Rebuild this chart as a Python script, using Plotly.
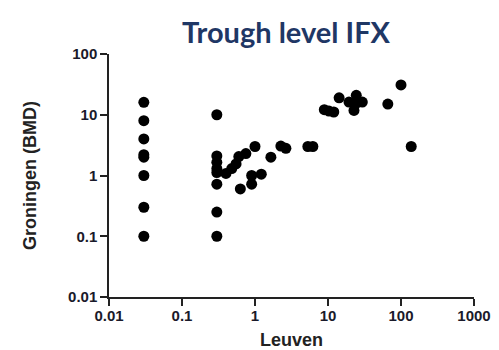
import plotly.graph_objects as go

# Leuven (x) vs Groningen BMD (y) trough levels IFX
leuven = [
    0.03, 0.03, 0.03, 0.03, 0.03, 0.03, 0.03, 0.03,
    0.3, 0.3, 0.3, 0.3, 0.3, 0.3, 0.3, 0.3,
    0.4, 0.48, 0.55, 0.6, 0.75, 1.0,
    0.63, 0.9, 0.9, 1.22,
    1.65, 2.26, 2.65,
    5.3, 6.2,
    8.9, 10.3, 12.0, 14.2,
    19.4, 24.4, 29.5, 22.7, 24.0,
    66, 100, 138,
]
groningen = [
    16, 8, 4, 2.2, 2.0, 1.0, 0.3, 0.1,
    10, 2.1, 1.65, 1.3, 1.12, 0.72, 0.25, 0.1,
    1.08, 1.3, 1.55, 2.05, 2.3, 3.0,
    0.6, 0.72, 1.0, 1.05,
    2.0, 3.05, 2.8,
    3.0, 3.0,
    12.1, 11.5, 11.1, 19.0,
    16.2, 20.9, 16.2, 11.8, 15.2,
    15.0, 31, 3.0,
]

tick_vals_x = [0.01, 0.1, 1, 10, 100, 1000]
tick_text_x = ["0.01", "0.1", "1", "10", "100", "1000"]
tick_vals_y = [0.01, 0.1, 1, 10, 100]
tick_text_y = ["0.01", "0.1", "1", "10", "100"]

fig = go.Figure()
fig.add_trace(go.Scatter(
    x=leuven, y=groningen, mode="markers",
    marker=dict(color="black", size=11, line=dict(width=0)),
    showlegend=False, cliponaxis=False,
))

axis_font = dict(family="Liberation Sans, Arial", size=15, color="#1a1a2a", weight="bold")
title_font = dict(family="Liberation Sans, Arial", size=18, color="#222", weight="bold")
fig.update_layout(
    width=499, height=350,
    margin=dict(l=109, r=25, t=54, b=53),
    paper_bgcolor="white", plot_bgcolor="white",
    title=dict(
        text="<b>Trough level IFX</b>",
        font=dict(family="Lato, Open Sans", size=29, color="#1F3765"),
        x=0.485, xref="paper", xanchor="center",
        y=1 - 33 / 350, yref="container", yanchor="middle",
    ),
    xaxis=dict(
        type="log", range=[-2, 3], autorange=False, automargin=False,
        tickvals=tick_vals_x, ticktext=tick_text_x,
        tickfont=axis_font, ticks="outside", ticklen=7, tickwidth=1.5,
        ticklabelstandoff=-3,
        tickcolor="#222", showline=True, linecolor="#222", linewidth=1.5,
        showgrid=False, zeroline=False,
        title=dict(text="Leuven", font=title_font, standoff=15),
    ),
    yaxis=dict(
        type="log", range=[-2, 2], autorange=False, automargin=False,
        tickvals=tick_vals_y, ticktext=tick_text_y,
        tickfont=axis_font, ticks="outside", ticklen=7, tickwidth=1.5,
        tickcolor="#222", showline=True, linecolor="#222", linewidth=1.5,
        showgrid=False, zeroline=False,
        title=dict(text="Groningen (BMD)", font=title_font, standoff=27),
    ),
)

fig.write_html("out.html")
